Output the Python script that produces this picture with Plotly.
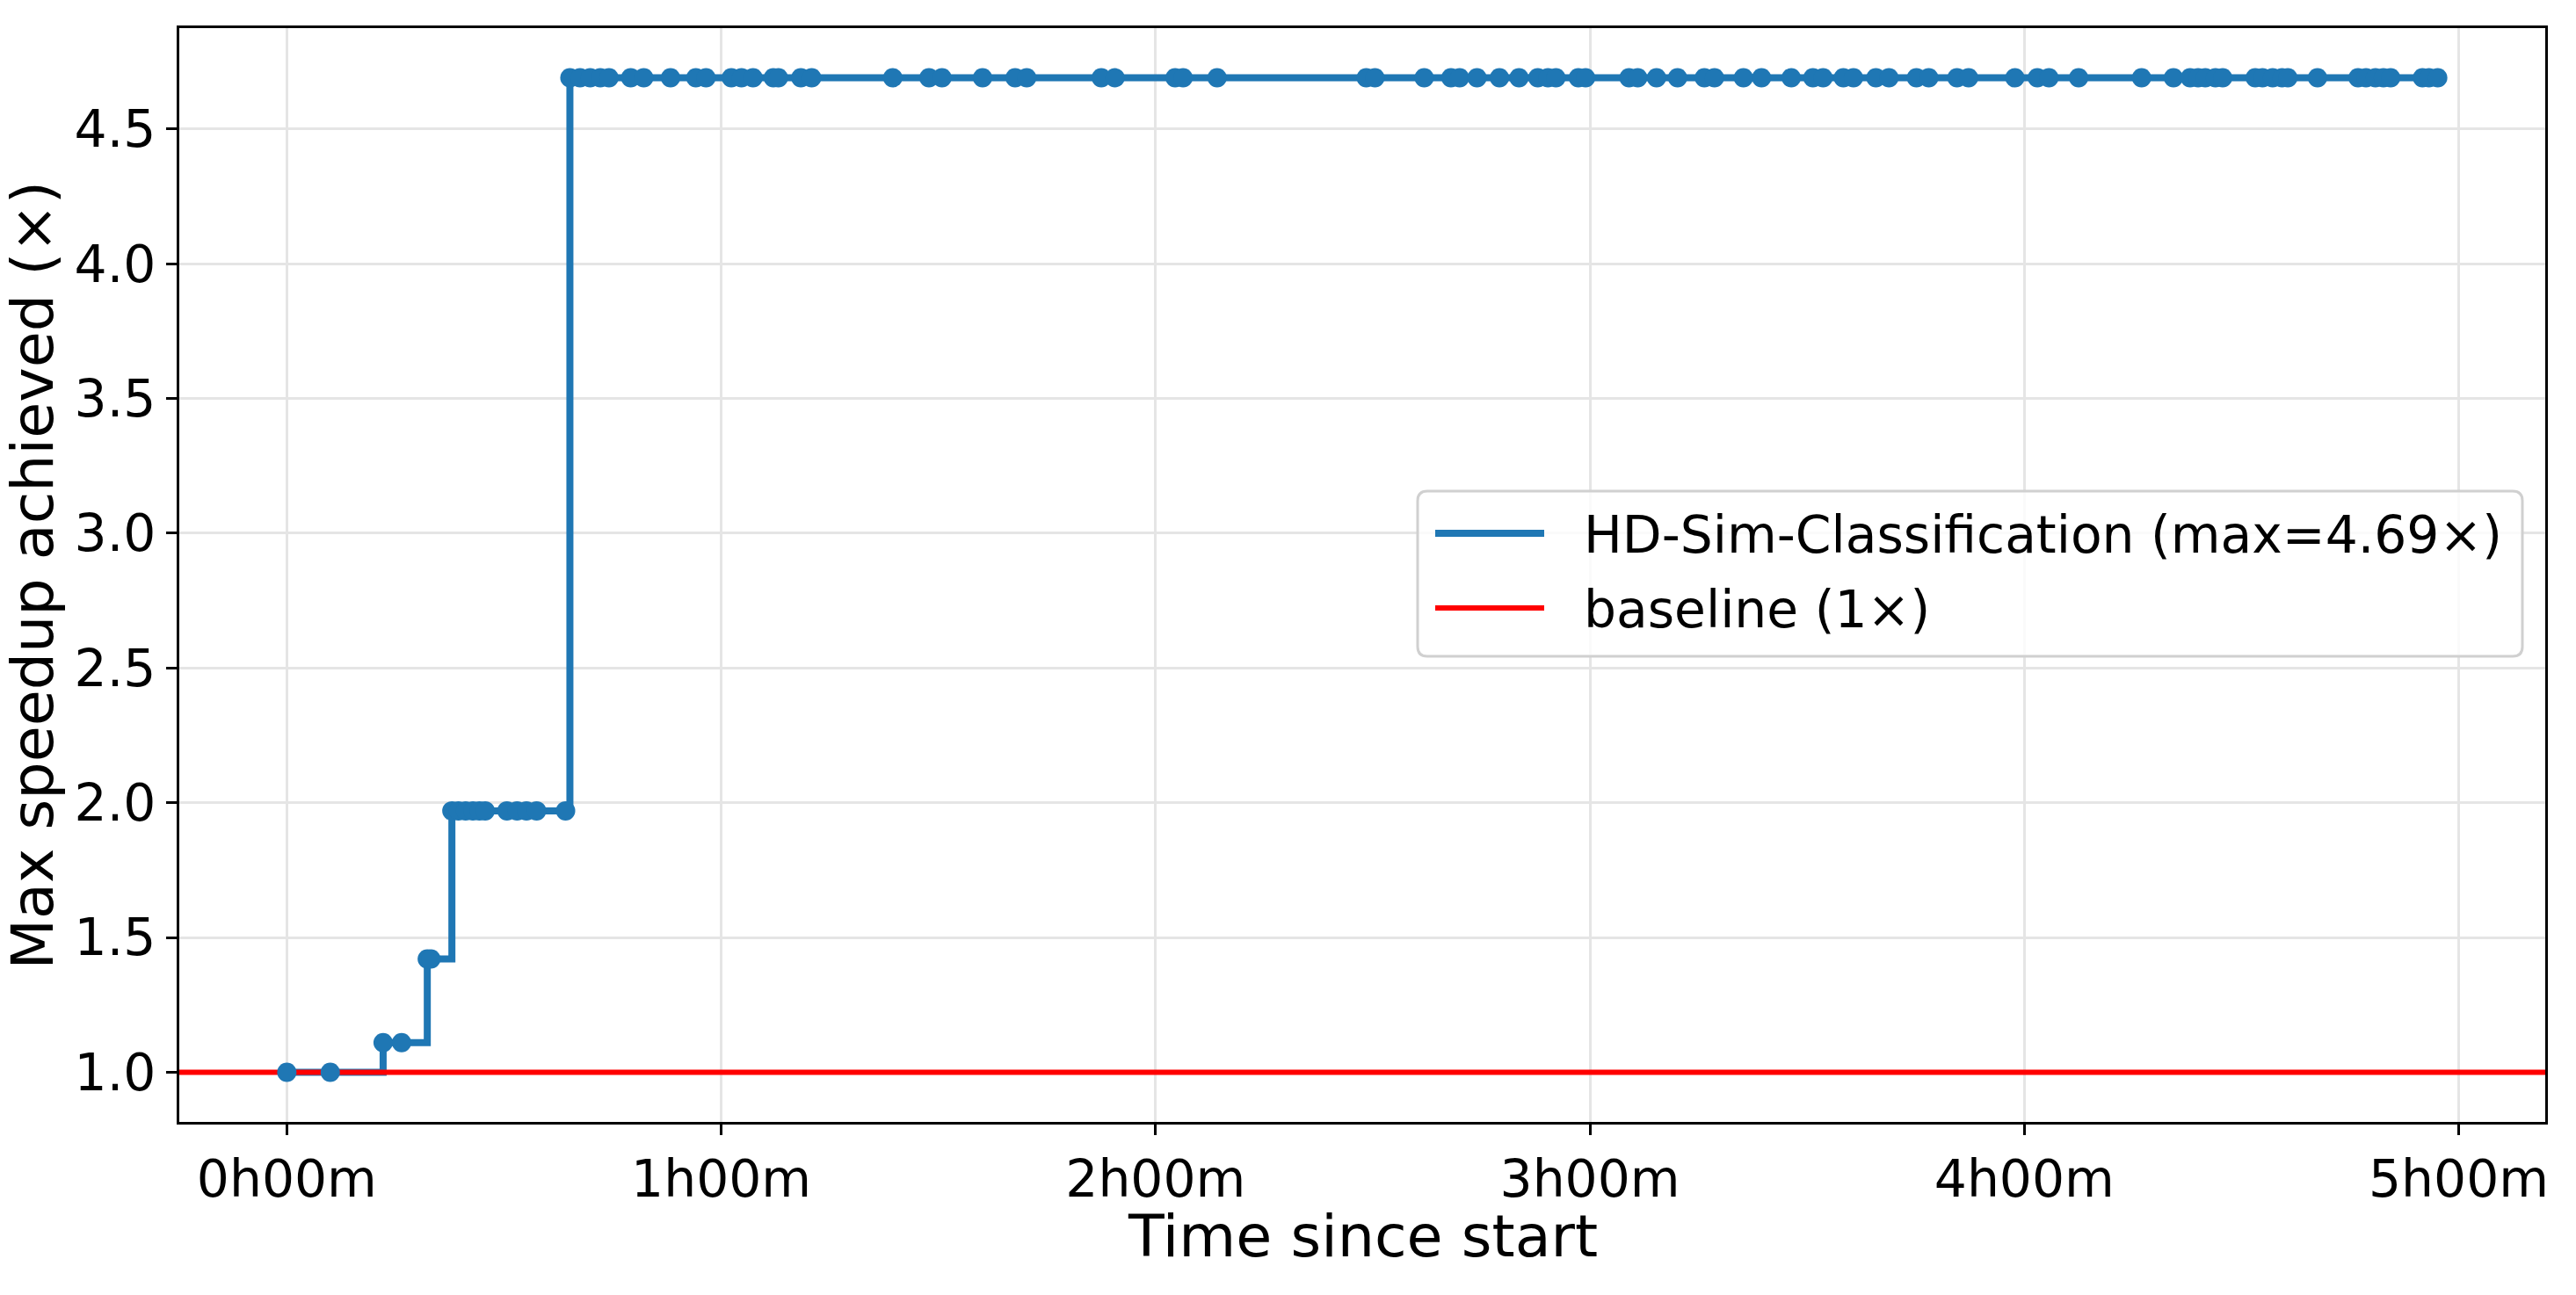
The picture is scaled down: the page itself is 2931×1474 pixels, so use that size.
import plotly.graph_objects as go

# ---- data (minutes since start, running max speedup) ----
times_min = [0.0, 6.0, 13.3, 15.85, 19.4, 19.9, 22.8, 23.7, 24.7, 25.7, 26.6, 27.4,
             30.4, 31.8, 33.1, 34.5, 38.5, 39.1, 40.5, 41.9, 43.3, 44.5, 47.5, 49.3,
             53.0, 56.5, 57.9, 61.4, 62.8, 64.4, 67.2, 67.9, 71.0, 72.5, 83.7, 88.7,
             90.5, 96.1, 100.6, 102.2, 112.5, 114.4, 122.7, 123.8, 128.5, 149.1, 150.3,
             157.1, 160.8, 162.0, 164.4, 167.5, 170.2, 172.8, 174.2, 175.3, 178.4, 179.4,
             185.4, 186.6, 189.2, 192.1, 195.8, 197.2, 201.2, 203.7, 207.8, 210.8, 212.2,
             215.0, 216.4, 219.5, 221.3, 225.1, 226.8, 230.7, 232.3, 238.7, 241.8, 243.4,
             247.5, 256.2, 260.6, 262.9, 264.0, 265.0, 266.4, 267.4, 271.9, 272.9, 274.3,
             275.6, 276.4, 280.5, 286.1, 287.2, 288.5, 289.6, 290.6, 295.0, 295.9, 297.1]
speedups = [1.0, 1.0, 1.11, 1.11, 1.42, 1.42] + [1.97] * 11 + [4.69] * (len(times_min) - 17)

series_name = "HD-Sim-Classification (max=4.69×)"
baseline_name = "baseline (1×)"
baseline_value = 1.0
x_title = "Time since start"
y_title = "Max speedup achieved (×)"

xtick_vals = [0, 60, 120, 180, 240, 300]
xtick_text = ["0h00m", "1h00m", "2h00m", "3h00m", "4h00m", "5h00m"]
ytick_vals = [1.0, 1.5, 2.0, 2.5, 3.0, 3.5, 4.0, 4.5]

BLUE = "#1f77b4"
RED = "#ff0000"
FONT = "DejaVu Sans"
W, H = 2931, 1474
ML, MR, MT, MB = 204, 35, 32, 197
PW, PH = W - ML - MR, H - MT - MB

# matplotlib-like 5% margins
xmin, xmax = min(times_min), max(times_min)
xpad = 0.05 * (xmax - xmin)
x_range = [xmin - xpad, xmax + xpad]
ymin, ymax = min(speedups + [baseline_value]), max(speedups)
ypad = 0.05 * (ymax - ymin)
y_range = [ymin - ypad, ymax + ypad]

fig = go.Figure()
fig.add_trace(go.Scatter(x=times_min, y=speedups, mode="lines", line_shape="hv",
                         line=dict(color=BLUE, width=8), name=series_name, showlegend=False))
fig.add_trace(go.Scatter(x=x_range, y=[baseline_value, baseline_value], mode="lines",
                         line=dict(color=RED, width=6), name=baseline_name, showlegend=False))
fig.add_trace(go.Scatter(x=times_min, y=speedups, mode="markers",
                         marker=dict(color=BLUE, size=22, line=dict(width=0)),
                         showlegend=False, name=series_name))

axis_common = dict(showline=True, linecolor="black", linewidth=3, mirror=True,
                   ticks="outside", ticklen=12, tickwidth=3, tickcolor="black",
                   showgrid=True, gridcolor="#e5e5e5", gridwidth=3, zeroline=False,
                   tickfont=dict(family=FONT, size=58.3, color="black"))

def px(xp):
    return (xp - ML) / PW

def py(yp):
    return (H - MB - yp) / PH

# ---- matplotlib-style legend box drawn in paper space ----
box_l, box_r, box_t, box_b, rad = 1613, 2870, 559, 747, 11
rx, ry = rad / PW, rad / PH
L, R, T, B = px(box_l), px(box_r), py(box_t), py(box_b)
path = (f"M{L+rx},{T} L{R-rx},{T} Q{R},{T} {R},{T-ry} L{R},{B+ry} Q{R},{B} {R-rx},{B} "
        f"L{L+rx},{B} Q{L},{B} {L},{B+ry} L{L},{T-ry} Q{L},{T} {L+rx},{T} Z")
shapes = [dict(type="path", xref="paper", yref="paper", path=path,
               fillcolor="rgba(255,255,255,0.8)", line=dict(color="#d0d0d0", width=3),
               layer="above")]
legend_items = [(series_name, BLUE, 8, 607), (baseline_name, RED, 6, 692)]
annotations = []
for name, col, lw, yrow in legend_items:
    shapes.append(dict(type="line", xref="paper", yref="paper", x0=px(1633), x1=px(1757),
                       y0=py(yrow), y1=py(yrow), line=dict(color=col, width=lw), layer="above"))
    annotations.append(dict(text=name, xref="paper", yref="paper", x=px(1800), y=py(yrow + 2),
                            xanchor="left", yanchor="middle", showarrow=False,
                            font=dict(family=FONT, size=58.3, color="black")))

# ---- axis titles ----
annotations.append(dict(text=x_title, xref="paper", yref="paper", x=0.5, y=py(1407),
                        xanchor="center", yanchor="middle", showarrow=False,
                        font=dict(family=FONT, size=66.7, color="black")))
annotations.append(dict(text=y_title, xref="paper", yref="paper", x=px(36), y=0.5,
                        xanchor="center", yanchor="middle", showarrow=False, textangle=-90,
                        font=dict(family=FONT, size=66.7, color="black")))

fig.update_layout(
    width=W, height=H,
    margin=dict(l=ML, r=MR, t=MT, b=MB),
    paper_bgcolor="white", plot_bgcolor="white",
    font=dict(family=FONT, color="black"),
    xaxis=dict(range=x_range, tickvals=xtick_vals, ticktext=xtick_text, **axis_common),
    yaxis=dict(range=y_range, tickvals=ytick_vals, tickformat=".1f", **axis_common),
    shapes=shapes,
    annotations=annotations,
    showlegend=False,
)

fig.write_html("out.html")
